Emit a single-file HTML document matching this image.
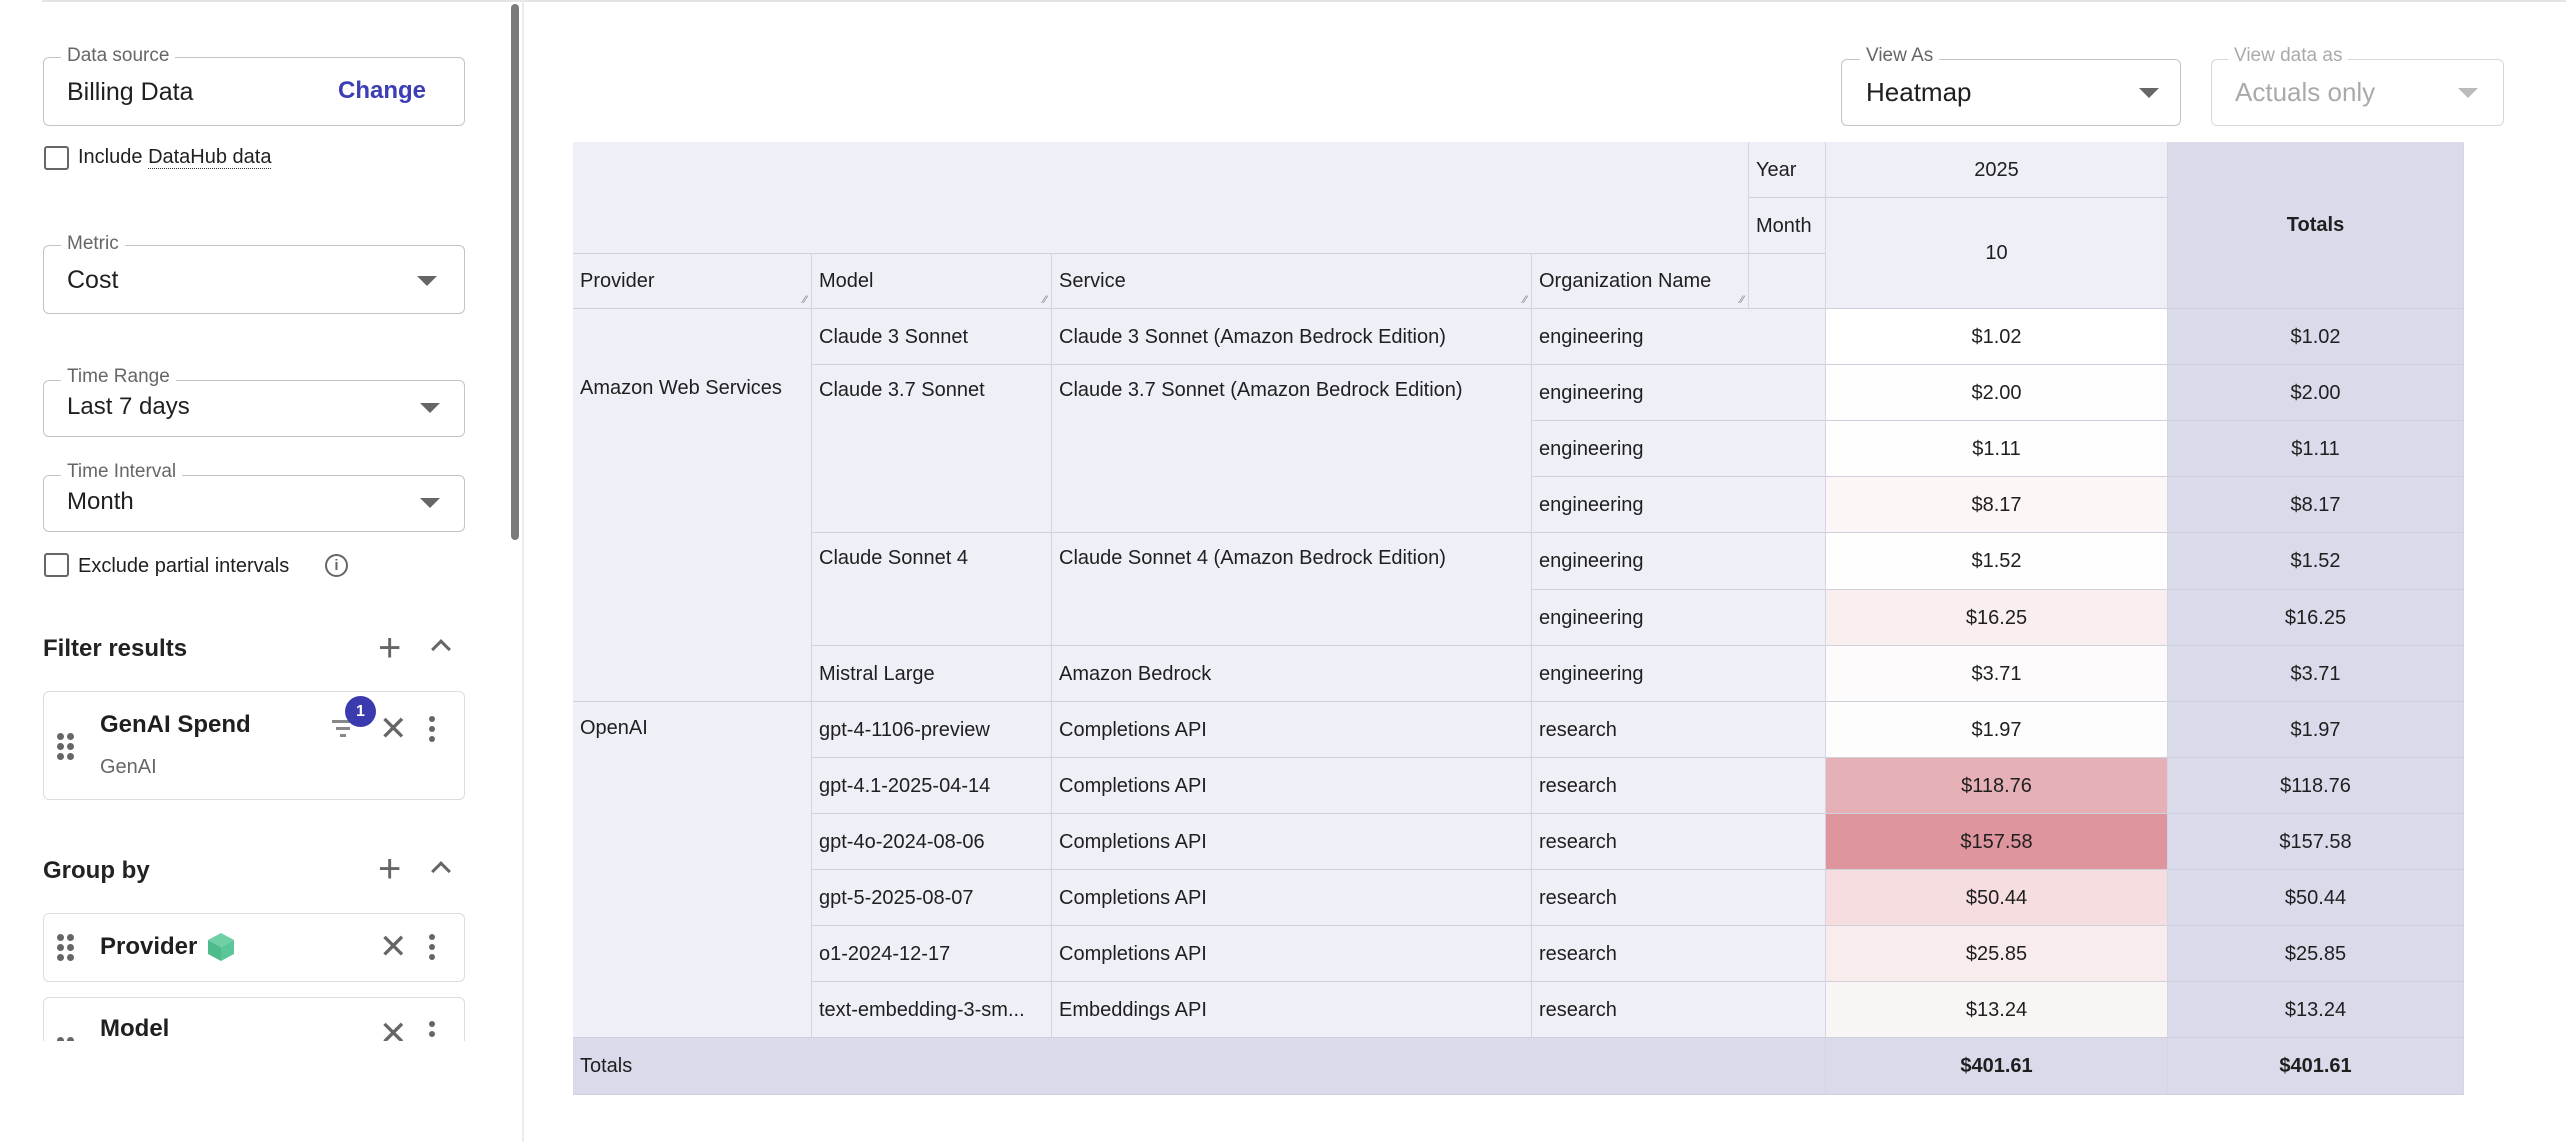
<!DOCTYPE html>
<html><head><meta charset="utf-8">
<style>
*{box-sizing:border-box;margin:0;padding:0}
body{width:2566px;height:1142px;background:#fff;position:relative;overflow:hidden;font-family:"Liberation Sans",Arial,sans-serif;color:#1f1f1f}
.a{position:absolute}
.box{position:absolute;border:1.5px solid #c4c4c4;border-radius:6px}
.lbl{position:absolute;background:#fff;padding:0 6px;font-size:19px;color:#666;line-height:22px}
.val{position:absolute;font-size:25px;line-height:30px}
.arr{position:absolute;width:0;height:0;border-left:10px solid transparent;border-right:10px solid transparent;border-top:10px solid #666}
.cb{position:absolute;width:25px;height:24px;border:2.5px solid #666;border-radius:3px}
.t{position:absolute;font-size:20px;line-height:24px;white-space:nowrap}
.c{position:absolute;border-right:1px solid #d4d5e0;border-bottom:1.5px solid #cfd0dc;font-size:20px;white-space:nowrap;overflow:hidden}
.h{background:#eeeff7}
.tot{background:#d9daea}
.cc{text-align:center}
.x{position:absolute;font-size:34px;color:#666;line-height:34px}
.dots{position:absolute;width:6px}
.dots i{display:block;width:6px;height:6px;border-radius:50%;background:#666;margin-bottom:4px}
.g{position:absolute;width:7px;height:7px;border-radius:50%;background:#666}
.rz{position:absolute;right:4px;bottom:2px;font-size:11px;color:#888;line-height:11px}
</style></head><body>
<div class="a" style="left:42px;top:0;width:2524px;height:2px;background:#e4e4e4"></div>
<div class="a" style="left:522px;top:0;width:2px;height:1142px;background:#ececec"></div>
<div class="a" style="left:511px;top:4px;width:8px;height:536px;background:#7a7a7a;border-radius:4px"></div>

<div class="box" style="left:43px;top:57px;width:422px;height:69px"></div>
<div class="lbl" style="left:61px;top:45px">Data source</div>
<div class="val" style="left:67px;top:77px">Billing Data</div>
<div class="a" style="left:338px;top:77px;font-size:24px;color:#3d3db5;font-weight:bold;line-height:28px">Change</div>
<div class="cb" style="left:44px;top:146px"></div>
<div class="t" style="left:78px;top:145px">Include <span style="border-bottom:1.5px dotted #333">DataHub data</span></div>

<div class="box" style="left:43px;top:245px;width:422px;height:69px"></div>
<div class="lbl" style="left:61px;top:233px">Metric</div>
<div class="val" style="left:67px;top:265px">Cost</div>
<div class="arr" style="left:417px;top:276px"></div>

<div class="box" style="left:43px;top:380px;width:422px;height:57px"></div>
<div class="lbl" style="left:61px;top:366px">Time Range</div>
<div class="val" style="left:67px;top:392px;font-size:24px">Last 7 days</div>
<div class="arr" style="left:420px;top:403px"></div>

<div class="box" style="left:43px;top:475px;width:422px;height:57px"></div>
<div class="lbl" style="left:61px;top:461px">Time Interval</div>
<div class="val" style="left:67px;top:487px;font-size:24px">Month</div>
<div class="arr" style="left:420px;top:498px"></div>

<div class="cb" style="left:44px;top:553px"></div>
<div class="t" style="left:78px;top:554px">Exclude partial intervals</div>
<div class="a" style="left:325px;top:554px;width:23px;height:23px;border:2px solid #666;border-radius:50%;font-size:15px;text-align:center;line-height:19px;color:#666;font-weight:bold">i</div>

<div class="a" style="left:43px;top:634px;font-size:24px;font-weight:bold;color:#222;line-height:30px">Filter results</div>
<div class="a" style="left:378px;top:628px;font-size:40px;color:#666;line-height:40px">+</div>
<div class="a" style="left:434px;top:642px;width:14px;height:14px;border-left:3px solid #666;border-top:3px solid #666;transform:rotate(45deg)"></div>

<div class="box" style="left:43px;top:691px;width:422px;height:109px;border-color:#ddd"></div>
<div class="g" style="left:57px;top:733px"></div><div class="g" style="left:67px;top:733px"></div>
<div class="g" style="left:57px;top:743px"></div><div class="g" style="left:67px;top:743px"></div>
<div class="g" style="left:57px;top:753px"></div><div class="g" style="left:67px;top:753px"></div>
<div class="a" style="left:100px;top:710px;font-size:24px;font-weight:bold;line-height:30px">GenAI Spend</div>
<div class="a" style="left:100px;top:755px;font-size:20px;color:#666;line-height:24px">GenAI</div>
<div class="a" style="left:332px;top:720px;width:22px;height:3px;background:#888"></div>
<div class="a" style="left:336px;top:727px;width:14px;height:3px;background:#888"></div>
<div class="a" style="left:340px;top:734px;width:6px;height:3px;background:#888"></div>
<div class="a" style="left:345px;top:696px;width:31px;height:31px;border-radius:50%;background:#3b3baf;color:#fff;font-size:16px;font-weight:bold;text-align:center;line-height:31px">1</div>
<div class="x" style="left:379px;top:712px">✕</div>
<div class="dots" style="left:429px;top:716px"><i></i><i></i><i></i></div>

<div class="a" style="left:43px;top:856px;font-size:24px;font-weight:bold;color:#222;line-height:30px">Group by</div>
<div class="a" style="left:378px;top:849px;font-size:40px;color:#666;line-height:40px">+</div>
<div class="a" style="left:434px;top:864px;width:14px;height:14px;border-left:3px solid #666;border-top:3px solid #666;transform:rotate(45deg)"></div>

<div class="box" style="left:43px;top:913px;width:422px;height:69px;border-color:#ddd"></div>
<div class="g" style="left:57px;top:934px"></div><div class="g" style="left:67px;top:934px"></div>
<div class="g" style="left:57px;top:944px"></div><div class="g" style="left:67px;top:944px"></div>
<div class="g" style="left:57px;top:954px"></div><div class="g" style="left:67px;top:954px"></div>
<div class="a" style="left:100px;top:932px;font-size:24px;font-weight:bold;line-height:30px">Provider</div>
<svg class="a" style="left:207px;top:932px" width="28" height="30" viewBox="0 0 28 30"><polygon points="14,1 27,8 14,15 1,8" fill="#6fd0a6"/><polygon points="1,8 14,15 14,29 1,22" fill="#4dbb8c"/><polygon points="27,8 14,15 14,29 27,22" fill="#5ac69a"/></svg>
<div class="x" style="left:379px;top:930px">✕</div>
<div class="dots" style="left:429px;top:934px"><i></i><i></i><i></i></div>

<div class="a" style="left:40px;top:995px;width:430px;height:46px;overflow:hidden">
<div class="box" style="left:3px;top:2px;width:422px;height:70px;border-color:#ddd"></div>
<div class="g" style="left:17px;top:42px"></div><div class="g" style="left:27px;top:42px"></div>
<div class="a" style="left:60px;top:19px;font-size:24px;font-weight:bold;line-height:30px">Model</div>
<div class="x" style="left:339px;top:22px">✕</div>
<div class="dots" style="left:389px;top:26px"><i></i><i></i><i></i></div>
</div>

<!-- right controls -->
<div class="box" style="left:1841px;top:59px;width:340px;height:67px"></div>
<div class="lbl" style="left:1860px;top:45px">View As</div>
<div class="val" style="left:1866px;top:77px;font-size:26px">Heatmap</div>
<div class="arr" style="left:2139px;top:88px"></div>
<div class="box" style="left:2211px;top:59px;width:293px;height:67px;border-color:#d8d8d8"></div>
<div class="lbl" style="left:2228px;top:45px;color:#aaa">View data as</div>
<div class="val" style="left:2235px;top:77px;font-size:26px;color:#aaa">Actuals only</div>
<div class="arr" style="left:2458px;top:88px;border-top-color:#bbb"></div>

<!-- table -->
<div class="a" style="left:573px;top:142px;width:1891px;height:953px;border-top:1.5px solid #cfd0dc;border-left:1px solid #d4d5e0"></div>
<div class="c h" style="left:573px;top:142px;width:1176px;height:112px"></div>
<div class="c h" style="left:1749px;top:142px;width:77px;height:56px;line-height:56px;padding-left:7px">Year</div>
<div class="c h" style="left:1749px;top:198px;width:77px;height:56px;line-height:56px;padding-left:7px">Month</div>
<div class="c h" style="left:1749px;top:254px;width:77px;height:55px"></div>
<div class="c h cc" style="left:1826px;top:142px;width:342px;height:56px;line-height:56px">2025</div>
<div class="c h cc" style="left:1826px;top:198px;width:342px;height:111px;line-height:111px">10</div>
<div class="c tot cc" style="left:2168px;top:142px;width:296px;height:167px;line-height:167px;font-weight:bold">Totals</div>
<div class="c h" style="left:573px;top:254px;width:239px;height:55px;line-height:55px;padding-left:7px">Provider<span class="rz">⁄⁄</span></div>
<div class="c h" style="left:812px;top:254px;width:240px;height:55px;line-height:55px;padding-left:7px">Model<span class="rz">⁄⁄</span></div>
<div class="c h" style="left:1052px;top:254px;width:480px;height:55px;line-height:55px;padding-left:7px">Service<span class="rz">⁄⁄</span></div>
<div class="c h" style="left:1532px;top:254px;width:217px;height:55px;line-height:55px;padding-left:7px">Organization Name<span class="rz">⁄⁄</span></div>

<div class="c h" style="left:573px;top:309px;width:239px;height:393px;padding:68px 0 0 7px">Amazon Web Services</div>
<div class="c h" style="left:573px;top:702px;width:239px;height:336px;padding:15px 0 0 7px">OpenAI</div>

<div class="c h" style="left:812px;top:309px;width:240px;height:56px;line-height:56px;padding-left:7px">Claude 3 Sonnet</div>
<div class="c h" style="left:812px;top:365px;width:240px;height:168px;padding:14px 0 0 7px">Claude 3.7 Sonnet</div>
<div class="c h" style="left:812px;top:533px;width:240px;height:113px;padding:14px 0 0 7px">Claude Sonnet 4</div>
<div class="c h" style="left:812px;top:646px;width:240px;height:56px;line-height:56px;padding-left:7px">Mistral Large</div>
<div class="c h" style="left:812px;top:702px;width:240px;height:56px;line-height:56px;padding-left:7px">gpt-4-1106-preview</div>
<div class="c h" style="left:812px;top:758px;width:240px;height:56px;line-height:56px;padding-left:7px">gpt-4.1-2025-04-14</div>
<div class="c h" style="left:812px;top:814px;width:240px;height:56px;line-height:56px;padding-left:7px">gpt-4o-2024-08-06</div>
<div class="c h" style="left:812px;top:870px;width:240px;height:56px;line-height:56px;padding-left:7px">gpt-5-2025-08-07</div>
<div class="c h" style="left:812px;top:926px;width:240px;height:56px;line-height:56px;padding-left:7px">o1-2024-12-17</div>
<div class="c h" style="left:812px;top:982px;width:240px;height:56px;line-height:56px;padding-left:7px">text-embedding-3-sm...</div>

<div class="c h" style="left:1052px;top:309px;width:480px;height:56px;line-height:56px;padding-left:7px">Claude 3 Sonnet (Amazon Bedrock Edition)</div>
<div class="c h" style="left:1052px;top:365px;width:480px;height:168px;padding:14px 0 0 7px">Claude 3.7 Sonnet (Amazon Bedrock Edition)</div>
<div class="c h" style="left:1052px;top:533px;width:480px;height:113px;padding:14px 0 0 7px">Claude Sonnet 4 (Amazon Bedrock Edition)</div>
<div class="c h" style="left:1052px;top:646px;width:480px;height:56px;line-height:56px;padding-left:7px">Amazon Bedrock</div>
<div class="c h" style="left:1052px;top:702px;width:480px;height:56px;line-height:56px;padding-left:7px">Completions API</div>
<div class="c h" style="left:1052px;top:758px;width:480px;height:56px;line-height:56px;padding-left:7px">Completions API</div>
<div class="c h" style="left:1052px;top:814px;width:480px;height:56px;line-height:56px;padding-left:7px">Completions API</div>
<div class="c h" style="left:1052px;top:870px;width:480px;height:56px;line-height:56px;padding-left:7px">Completions API</div>
<div class="c h" style="left:1052px;top:926px;width:480px;height:56px;line-height:56px;padding-left:7px">Completions API</div>
<div class="c h" style="left:1052px;top:982px;width:480px;height:56px;line-height:56px;padding-left:7px">Embeddings API</div>

<div class="c h" style="left:1532px;top:309px;width:294px;height:56px;line-height:56px;padding-left:7px">engineering</div>
<div class="c h" style="left:1532px;top:365px;width:294px;height:56px;line-height:56px;padding-left:7px">engineering</div>
<div class="c h" style="left:1532px;top:421px;width:294px;height:56px;line-height:56px;padding-left:7px">engineering</div>
<div class="c h" style="left:1532px;top:477px;width:294px;height:56px;line-height:56px;padding-left:7px">engineering</div>
<div class="c h" style="left:1532px;top:533px;width:294px;height:57px;line-height:57px;padding-left:7px">engineering</div>
<div class="c h" style="left:1532px;top:590px;width:294px;height:56px;line-height:56px;padding-left:7px">engineering</div>
<div class="c h" style="left:1532px;top:646px;width:294px;height:56px;line-height:56px;padding-left:7px">engineering</div>
<div class="c h" style="left:1532px;top:702px;width:294px;height:56px;line-height:56px;padding-left:7px">research</div>
<div class="c h" style="left:1532px;top:758px;width:294px;height:56px;line-height:56px;padding-left:7px">research</div>
<div class="c h" style="left:1532px;top:814px;width:294px;height:56px;line-height:56px;padding-left:7px">research</div>
<div class="c h" style="left:1532px;top:870px;width:294px;height:56px;line-height:56px;padding-left:7px">research</div>
<div class="c h" style="left:1532px;top:926px;width:294px;height:56px;line-height:56px;padding-left:7px">research</div>
<div class="c h" style="left:1532px;top:982px;width:294px;height:56px;line-height:56px;padding-left:7px">research</div>

<div class="c cc" style="left:1826px;top:309px;width:342px;height:56px;line-height:56px;background:#ffffff">$1.02</div>
<div class="c cc" style="left:1826px;top:365px;width:342px;height:56px;line-height:56px;background:#fefefe">$2.00</div>
<div class="c cc" style="left:1826px;top:421px;width:342px;height:56px;line-height:56px;background:#fffefe">$1.11</div>
<div class="c cc" style="left:1826px;top:477px;width:342px;height:56px;line-height:56px;background:#fcf6f6">$8.17</div>
<div class="c cc" style="left:1826px;top:533px;width:342px;height:57px;line-height:57px;background:#fffefe">$1.52</div>
<div class="c cc" style="left:1826px;top:590px;width:342px;height:56px;line-height:56px;background:#f9efef">$16.25</div>
<div class="c cc" style="left:1826px;top:646px;width:342px;height:56px;line-height:56px;background:#fdfbfb">$3.71</div>
<div class="c cc" style="left:1826px;top:702px;width:342px;height:56px;line-height:56px;background:#fefdfd">$1.97</div>
<div class="c cc" style="left:1826px;top:758px;width:342px;height:56px;line-height:56px;background:#e6b1b6">$118.76</div>
<div class="c cc" style="left:1826px;top:814px;width:342px;height:56px;line-height:56px;background:#de959d">$157.58</div>
<div class="c cc" style="left:1826px;top:870px;width:342px;height:56px;line-height:56px;background:#f5dde0">$50.44</div>
<div class="c cc" style="left:1826px;top:926px;width:342px;height:56px;line-height:56px;background:#f8eced">$25.85</div>
<div class="c cc" style="left:1826px;top:982px;width:342px;height:56px;line-height:56px;background:#faf5f5">$13.24</div>

<div class="c tot cc" style="left:2168px;top:309px;width:296px;height:56px;line-height:56px">$1.02</div>
<div class="c tot cc" style="left:2168px;top:365px;width:296px;height:56px;line-height:56px">$2.00</div>
<div class="c tot cc" style="left:2168px;top:421px;width:296px;height:56px;line-height:56px">$1.11</div>
<div class="c tot cc" style="left:2168px;top:477px;width:296px;height:56px;line-height:56px">$8.17</div>
<div class="c tot cc" style="left:2168px;top:533px;width:296px;height:57px;line-height:57px">$1.52</div>
<div class="c tot cc" style="left:2168px;top:590px;width:296px;height:56px;line-height:56px">$16.25</div>
<div class="c tot cc" style="left:2168px;top:646px;width:296px;height:56px;line-height:56px">$3.71</div>
<div class="c tot cc" style="left:2168px;top:702px;width:296px;height:56px;line-height:56px">$1.97</div>
<div class="c tot cc" style="left:2168px;top:758px;width:296px;height:56px;line-height:56px">$118.76</div>
<div class="c tot cc" style="left:2168px;top:814px;width:296px;height:56px;line-height:56px">$157.58</div>
<div class="c tot cc" style="left:2168px;top:870px;width:296px;height:56px;line-height:56px">$50.44</div>
<div class="c tot cc" style="left:2168px;top:926px;width:296px;height:56px;line-height:56px">$25.85</div>
<div class="c tot cc" style="left:2168px;top:982px;width:296px;height:56px;line-height:56px">$13.24</div>

<div class="c tot" style="left:573px;top:1038px;width:1253px;height:57px;line-height:57px;padding-left:7px">Totals</div>
<div class="c tot cc" style="left:1826px;top:1038px;width:342px;height:57px;line-height:57px;font-weight:bold">$401.61</div>
<div class="c tot cc" style="left:2168px;top:1038px;width:296px;height:57px;line-height:57px;font-weight:bold">$401.61</div>
</body></html>
